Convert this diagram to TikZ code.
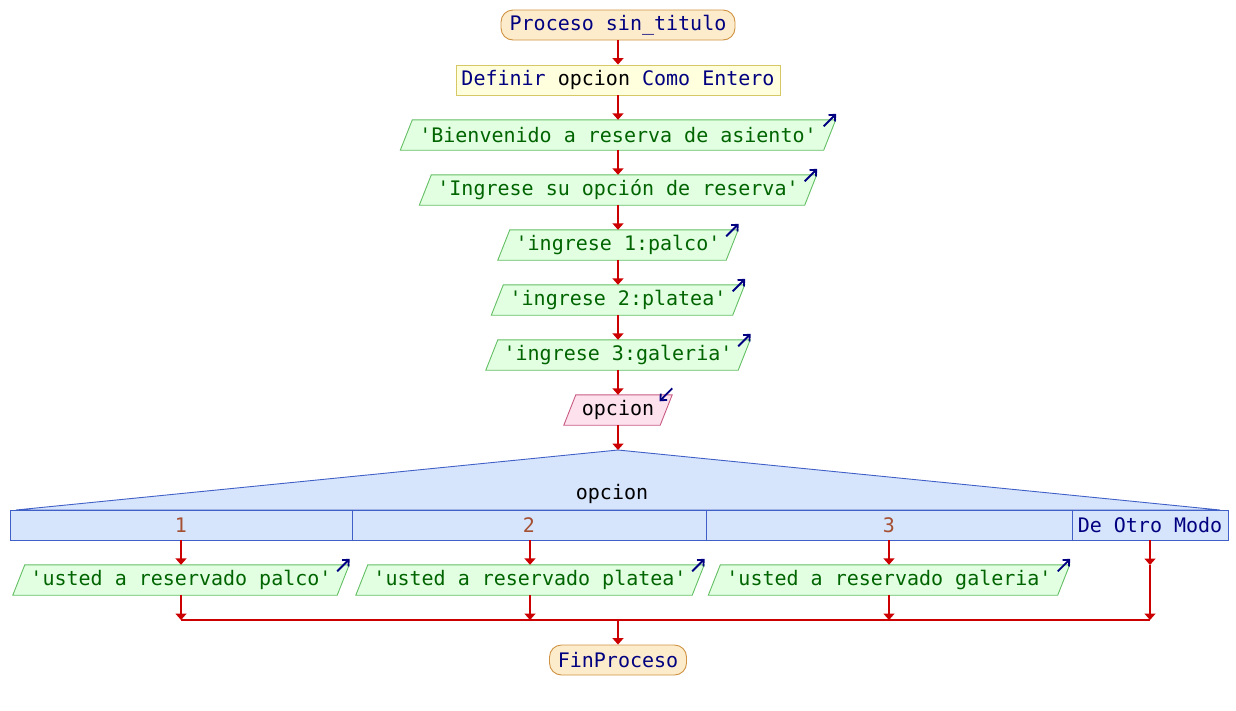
\documentclass[tikz,border=0pt]{standalone}
\usepackage{fontspec}
\newfontfamily\psmono{DejaVu Sans Mono}
\usetikzlibrary{arrows.meta,backgrounds}
\definecolor{flowred}{RGB}{204,0,0}
\definecolor{navy}{RGB}{0,0,128}
\definecolor{termfill}{RGB}{253,236,204}
\definecolor{termdraw}{RGB}{206,146,64}
\definecolor{deffill}{RGB}{255,255,221}
\definecolor{defdraw}{RGB}{214,200,100}
\definecolor{outfill}{RGB}{226,255,226}
\definecolor{outdraw}{RGB}{100,190,100}
\definecolor{outtext}{RGB}{0,100,0}
\definecolor{infill}{RGB}{253,226,238}
\definecolor{indraw}{RGB}{200,90,130}
\definecolor{swfill}{RGB}{214,228,252}
\definecolor{swdraw}{RGB}{64,96,200}
\definecolor{casenum}{RGB}{165,80,50}
\newcommand\paral[3]{%
  \begin{pgfonlayer}{background}
  \draw[fill=#2,draw=#3,line width=0.9pt]
    ([xshift=-6pt]#1.south west) -- ([xshift=6pt]#1.north west) --
    ([xshift=6pt]#1.north east) -- ([xshift=-6pt]#1.south east) -- cycle;
  \end{pgfonlayer}}
\newcommand\outicon[1]{%
  \draw[ioicon] ([xshift=-6pt,yshift=-6.5pt]#1.north east) -- ([xshift=6.5pt,yshift=6pt]#1.north east);}
\tikzset{
  every node/.style={font=\psmono\fontsize{20}{24}\selectfont, inner sep=0pt},
  term/.style={draw=termdraw, fill=termfill, rounded corners=12pt, minimum height=30pt, line width=0.9pt, text=navy},
  defbox/.style={draw=defdraw, fill=deffill, minimum height=30pt, line width=0.9pt},
  outbox/.style={minimum height=30pt, text=outtext},
  inbox/.style={minimum height=30pt, text=black},
  casebox/.style={draw=swdraw, fill=swfill, minimum height=30pt, line width=0.9pt},
  flow/.style={draw=flowred, line width=2pt, -{Triangle[width=11pt,length=6.5pt]}},
  flowline/.style={draw=flowred, line width=2pt},
  ioicon/.style={draw=navy, line width=1.8pt, -{Straight Barb[length=5pt,width=9pt]}},
}
\begin{document}
\begin{tikzpicture}[x=1pt,y=-1pt]
\useasboundingbox (0,0) rectangle (1236,710);
% top column
\node[term, minimum width=234pt] (start) at (618,25) {Proceso sin\_titulo};
\node[defbox, minimum width=324pt] (def) at (618,80) {\textcolor{navy}{Definir} \textcolor{black}{opcion} \textcolor{navy}{Como Entero}};
\node[outbox, minimum width=423pt] (p1) at (618,135) {'Bienvenido a reserva de asiento'};
\paral{p1}{outfill}{outdraw}\outicon{p1}
\node[outbox, minimum width=385pt] (p2) at (618,190) {'Ingrese su opción de reserva'};
\paral{p2}{outfill}{outdraw}\outicon{p2}
\node[outbox, minimum width=228pt] (p3) at (618,245) {'ingrese 1:palco'};
\paral{p3}{outfill}{outdraw}\outicon{p3}
\node[outbox, minimum width=241pt] (p4) at (618,300) {'ingrese 2:platea'};
\paral{p4}{outfill}{outdraw}\outicon{p4}
\node[outbox, minimum width=252pt] (p5) at (618,355) {'ingrese 3:galeria'};
\paral{p5}{outfill}{outdraw}\outicon{p5}
\node[inbox, minimum width=96pt] (in) at (618,410) {opcion};
\paral{in}{infill}{indraw}
\draw[ioicon] ([xshift=6pt,yshift=6.5pt]in.north east) -- ([xshift=-6.7pt,yshift=-6.5pt]in.north east);
% switch
\coordinate (sw) at (618,450);
\draw[fill=swfill, draw=swdraw, line width=0.9pt] (16,510) -- (sw) -- (1220,510) -- cycle;
\node (swl) at (612,494) {opcion};
\node[casebox, minimum width=342pt, text=casenum] (c1) at (181,525) {1};
\node[casebox, minimum width=354pt, text=casenum] (c2) at (529,525) {2};
\node[casebox, minimum width=366pt, text=casenum] (c3) at (889,525) {3};
\node[casebox, minimum width=156pt, text=navy] (c4) at (1150,525) {De Otro Modo};
% case bodies
\node[outbox, minimum width=324pt] (o1) at (181,580) {'usted a reservado palco'};
\paral{o1}{outfill}{outdraw}\outicon{o1}
\node[outbox, minimum width=336pt] (o2) at (530,580) {'usted a reservado platea'};
\paral{o2}{outfill}{outdraw}\outicon{o2}
\node[outbox, minimum width=349pt] (o3) at (889,580) {'usted a reservado galeria'};
\paral{o3}{outfill}{outdraw}\outicon{o3}
\node[term, minimum width=137pt] (end) at (618,660) {FinProceso};
% connectors
\draw[flow] (start) -- (def);
\draw[flow] (def) -- (p1);
\draw[flow] (p1) -- (p2);
\draw[flow] (p2) -- (p3);
\draw[flow] (p3) -- (p4);
\draw[flow] (p4) -- (p5);
\draw[flow] (p5) -- (in);
\draw[flow] (in) -- (sw);
\draw[flow] (c1.south) -- (o1.north);
\draw[flow] (c2.south -| o2.north) -- (o2.north);
\draw[flow] (c3.south) -- (o3.north);
\coordinate (e4) at (1150,565);
\coordinate (m1) at (181,620);
\coordinate (m2) at (530,620);
\coordinate (m3) at (889,620);
\coordinate (m4) at (1150,620);
\coordinate (mj) at (618,620);
\draw[flow] (c4.south) -- (e4);
\draw[flow] (e4) -- (m4);
\draw[flowline] (m1) -- (m4);
\draw[flow] (o1.south) -- (m1);
\draw[flow] (o2.south) -- (m2);
\draw[flow] (o3.south) -- (m3);
\draw[flow] (mj) -- (end);
\end{tikzpicture}
\end{document}
